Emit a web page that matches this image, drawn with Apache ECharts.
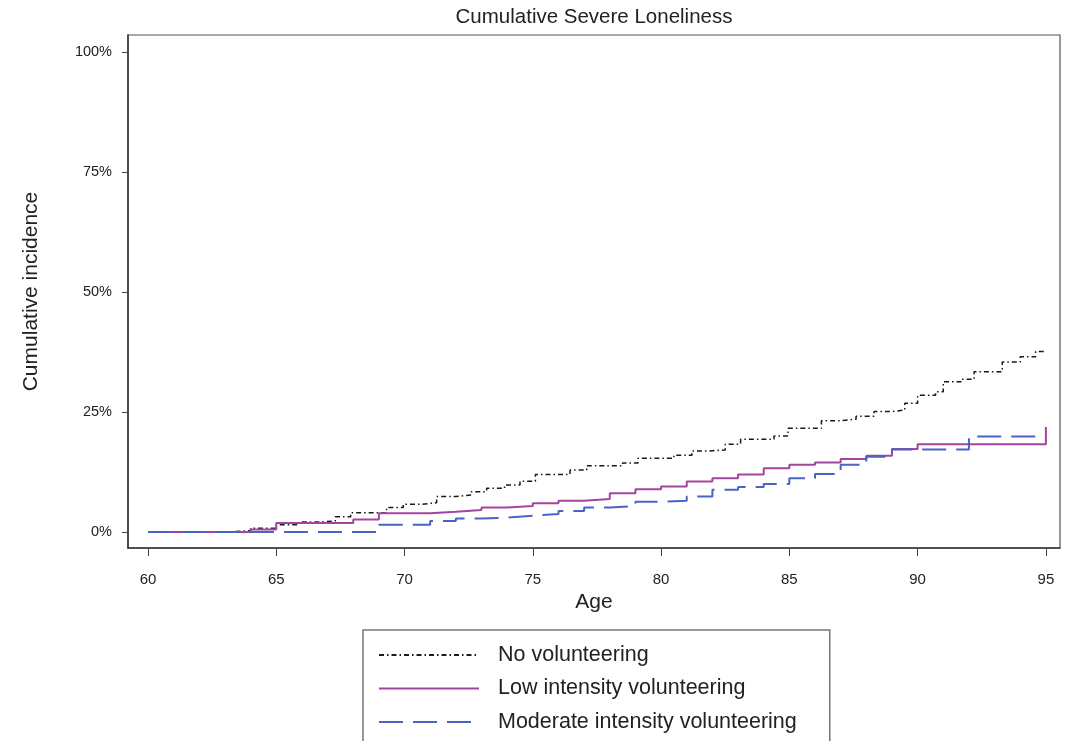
<!DOCTYPE html>
<html>
<head>
<meta charset="utf-8">
<script src="https://cdn.jsdelivr.net/npm/echarts@6/dist/echarts.min.js"></script>
<style>html,body{margin:0;padding:0;background:#fff;}#c{width:1078px;height:741px;}</style>
</head>
<body>
<div id="c"></div>
<script>
const titleText = 'Cumulative Severe Loneliness';
const xName = 'Age';
const yName = 'Cumulative incidence';
const xTicks = [60, 65, 70, 75, 80, 85, 90, 95];
const yTicks = [0, 25, 50, 75, 100];
const seriesNames = ['No volunteering', 'Low intensity volunteering', 'Moderate intensity volunteering'];

const noAges = [60, 63, 64, 65, 65.9, 66.7, 67.3, 67.9, 69.3, 69.95, 70.7, 71.25, 72, 72.6, 73.2, 73.9, 74.5, 75.1, 76.45, 77.1, 78.5, 79.1, 80.5, 81.2, 81.9, 82.5, 83.1, 84.4, 84.95, 86.25, 86.97, 87.6, 88.3, 89.0, 89.5, 90.0, 90.7, 91.0, 91.7, 92.2, 93.3, 94.0, 94.6, 95];
const noVals = [0, 0.3, 0.8, 1.5, 2.1, 2.3, 3.2, 4.0, 5.1, 5.8, 6.1, 7.4, 7.7, 8.4, 9.1, 9.8, 10.6, 12.0, 12.9, 13.8, 14.4, 15.35, 16.0, 16.9, 17.1, 18.3, 19.3, 20.0, 21.6, 23.2, 23.5, 24.1, 25.1, 25.4, 26.8, 28.5, 29.2, 31.3, 31.8, 33.4, 35.4, 36.5, 37.6, 37.6];

const lowAges = [60, 64, 65, 68, 69, 71, 72, 73, 74, 75, 76, 77, 78, 79, 80, 81, 82, 83, 84, 85, 86, 87, 88, 89, 90, 95, 95];
const lowVals = [0, 0.5, 1.9, 2.6, 3.9, 4.2, 4.6, 5.1, 5.4, 6.0, 6.5, 6.9, 8.1, 8.9, 9.5, 10.5, 11.2, 12.0, 13.3, 14.0, 14.5, 15.2, 15.9, 17.3, 18.3, 18.3, 21.9];

const modAges = [60, 69, 71, 72, 73, 74, 75, 76, 77, 78, 79, 80, 81, 82, 83, 84, 85, 86, 87, 88, 89, 92, 95];
const modVals = [0, 1.5, 2.3, 2.8, 3.0, 3.4, 3.75, 4.4, 5.1, 5.4, 6.3, 6.5, 7.4, 8.8, 9.4, 10.0, 11.2, 12.1, 14.0, 15.7, 17.2, 19.9, 19.9];

function pairs(a, b) { return a.map((x, i) => [x, b[i]]); }

const font = 'Liberation Sans, Arial, sans-serif';
const txt = '#222';

const chart = echarts.init(document.getElementById('c'), null, {renderer: 'canvas'});
chart.setOption({
  animation: false,
  backgroundColor: '#fff',
  title: {
    text: titleText, left: 594, top: 7, padding: 0, textAlign: 'center',
    textStyle: {fontFamily: font, fontSize: 20.5, fontWeight: 'normal', color: txt}
  },
  grid: {left: 128, right: 18, top: 35, bottom: 193, show: true, borderColor: '#555', borderWidth: 1.2, containLabel: false},
  legend: {
    orient: 'vertical', left: 363, top: 630, height: 220,
    padding: [14, 33, 20, 15],
    itemWidth: 100, itemHeight: 14, itemGap: 11.5,
    borderColor: '#777', borderWidth: 1.5,
    itemStyle: {opacity: 0},
    textStyle: {fontFamily: font, fontSize: 21.5, color: txt, padding: [0, 0, 0, 14]},
    data: seriesNames
  },
  xAxis: {
    type: 'value', min: 59.22, max: 95.55,
    name: xName, nameLocation: 'middle', nameGap: 44,
    nameTextStyle: {fontFamily: font, fontSize: 21, color: txt},
    axisLine: {onZero: false, lineStyle: {color: '#333', width: 1.5}},
    axisTick: {customValues: xTicks, length: 8, lineStyle: {color: '#444'}},
    axisLabel: {customValues: xTicks, margin: 24, fontFamily: font, fontSize: 15, color: txt},
    splitLine: {show: false}
  },
  yAxis: {
    type: 'value', min: -3.33, max: 103.54,
    name: yName, nameLocation: 'middle', nameGap: 86,
    nameTextStyle: {fontFamily: font, fontSize: 21, color: txt},
    axisLine: {onZero: false, lineStyle: {color: '#333', width: 1.5}},
    axisTick: {customValues: yTicks, length: 6, lineStyle: {color: '#444'}},
    axisLabel: {customValues: yTicks, margin: 16, fontFamily: font, fontSize: 14.5, color: txt, formatter: '{value}%'},
    splitLine: {show: false}
  },
  series: [
    {name: seriesNames[0], type: 'line', step: 'end', symbol: 'none', data: pairs(noAges, noVals),
     itemStyle: {color: '#1a1a1a'}, lineStyle: {color: '#1a1a1a', width: 1.5, type: [5, 3, 1.5, 3]}, z: 2},
    {name: seriesNames[1], type: 'line', step: 'end', symbol: 'none', data: pairs(lowAges, lowVals),
     itemStyle: {color: '#a3459f'}, lineStyle: {color: '#a3459f', width: 2}, z: 3},
    {name: seriesNames[2], type: 'line', step: 'end', symbol: 'none', data: pairs(modAges, modVals),
     itemStyle: {color: '#4a63c6'}, lineStyle: {color: '#4a63c6', width: 2, type: [24, 10]}, z: 4}
  ]
});
</script>
</body>
</html>
